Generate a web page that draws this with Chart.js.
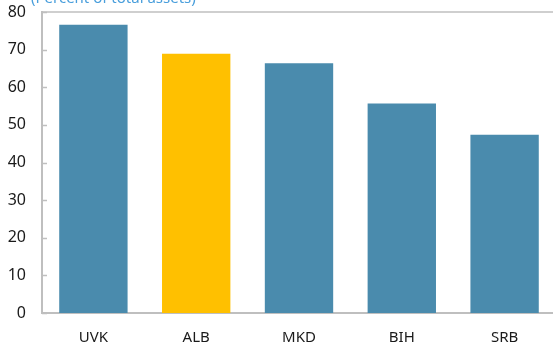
<!DOCTYPE html>
<html>
<head>
<meta charset="utf-8">
<script src="https://cdn.jsdelivr.net/npm/chart.js@4"></script>
<style>
  html, body { margin: 0; padding: 0; background: #fff; overflow: hidden; }
  #wrap { position: relative; width: 556px; height: 344px; }
  #subtitle {
    position: absolute; left: 31px; top: -13px;
    font: 15px "Noto Sans", sans-serif; color: #4a9fdc; white-space: nowrap;
  }
</style>
</head>
<body>
<div id="wrap">
  <canvas id="assetsChart" width="556" height="344"></canvas>
  <div id="subtitle">(Percent of total assets)</div>
</div>
<script>
const countries = ['UVK', 'ALB', 'MKD', 'BIH', 'SRB'];
const assetShares = [76.6, 68.9, 66.4, 55.7, 47.4];
const barColors = ['#4a8bad', '#ffc000', '#4a8bad', '#4a8bad', '#4a8bad'];
const yTicks = [0, 10, 20, 30, 40, 50, 60, 70, 80];

const axisGray = '#bfbfbf';

// inward tick marks on the value axis plus the top frame line
const frameTicks = {
    id: 'frameTicks',
    afterDraw(chart) {
        const { ctx, chartArea, scales } = chart;
        const y = scales.y;
        ctx.save();
        ctx.strokeStyle = axisGray;
        ctx.lineWidth = 1.5;
        yTicks.forEach(v => {
            const py = Math.round(y.getPixelForValue(v)) + 0.5;
            ctx.beginPath();
            ctx.moveTo(chartArea.left, py);
            ctx.lineTo(chartArea.left + 5, py);
            ctx.stroke();
        });
        ctx.beginPath();
        ctx.moveTo(chartArea.left, chartArea.top);
        ctx.lineTo(chartArea.right, chartArea.top);
        ctx.stroke();
        ctx.restore();
    }
};

new Chart(document.getElementById('assetsChart'), {
    type: 'bar',
    data: {
        labels: countries,
        datasets: [{
            data: assetShares,
            backgroundColor: barColors,
            barPercentage: 0.665,
            categoryPercentage: 1,
        }],
    },
    options: {
        responsive: false,
        animation: false,
        layout: { padding: { top: 12, left: 0, right: 0, bottom: 0 } },
        plugins: { legend: { display: false }, tooltip: { enabled: false } },
        scales: {
            x: {
                grid: { display: false },
                border: { color: axisGray, width: 2 },
                ticks: {
                    color: '#1a1a1a',
                    font: { family: 'Noto Sans', size: 15 },
                    padding: 8,
                },
                afterFit(scale) {
                    scale.height = 31;
                    scale.paddingLeft = 0;
                    scale.paddingRight = 0;
                },
            },
            y: {
                min: 0,
                max: 80,
                grid: { display: false, drawTicks: false },
                border: { color: axisGray, width: 2 },
                ticks: {
                    stepSize: 10,
                    color: '#1a1a1a',
                    font: { family: 'Noto Sans', size: 16 },
                    padding: 16,
                },
                afterFit(scale) {
                    scale.width = 42;
                    scale.paddingTop = 0;
                    scale.paddingBottom = 0;
                },
            },
        },
    },
    plugins: [frameTicks],
});
</script>
</body>
</html>
